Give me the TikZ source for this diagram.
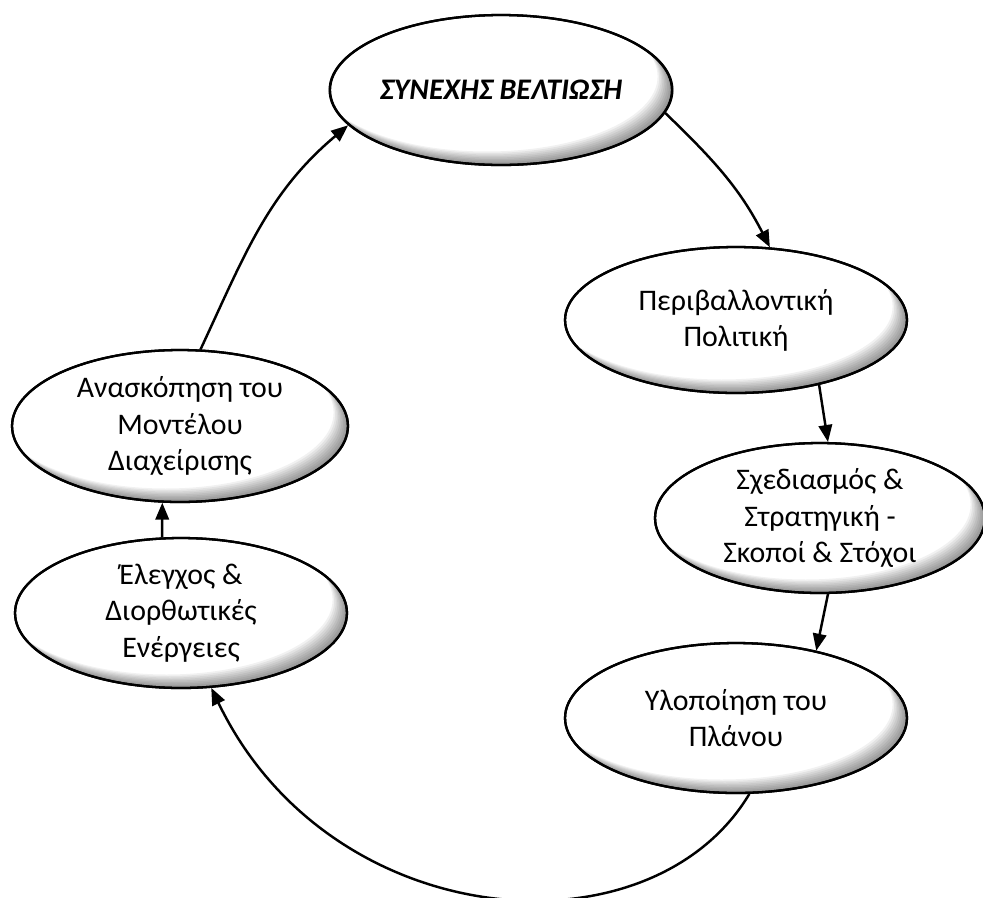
\documentclass[tikz,border=0pt]{standalone}
\usepackage{fontspec}
\setmainfont{Carlito}
\usetikzlibrary{shapes.geometric,arrows.meta}
\tikzset{
  ell/.style={ellipse, draw=black, fill=white, line width=1.3pt, inner sep=0pt, align=center,
    font=\fontsize{17}{20.6}\selectfont},
  conn/.style={line width=1.4pt, -{Triangle[length=0.34cm,width=0.27cm]}},
  shadowlayer/.style={fill=black, opacity=0.055, even odd rule}
}
% inner shadow at lower right of an ellipse node: name, x radius, y radius
\newcommand{\ishadow}[3]{%
  \begin{scope}
    \clip (#1.center) ellipse [x radius=#2, y radius=#3];
    \foreach \k in {1,...,9}{
      \fill[shadowlayer] ([shift={(-\k*0.032cm,\k*0.03cm)}]#1.center) ellipse [x radius=#2, y radius=#3]
        (#1.center) ellipse [x radius=#2+1cm, y radius=#3+1cm];
    }
  \end{scope}
  \draw[line width=1.3pt] (#1.center) ellipse [x radius=#2, y radius=#3];
}
\begin{document}
\begin{tikzpicture}[x=0.02cm,y=0.02cm]
\useasboundingbox (0,0) rectangle (983,-897);
\node[ell, minimum width=6.84cm, minimum height=3.0cm, font=\fontsize{17}{20}\selectfont\bfseries\itshape] (top) at (501,-90) {ΣΥΝΕΧΗΣ ΒΕΛΤΙΩΣΗ};
\node[ell, minimum width=6.84cm, minimum height=2.92cm] (per) at (736,-320) {Περιβαλλοντική\\Πολιτική};
\node[ell, minimum width=6.6cm, minimum height=3.0cm] (sxe) at (820,-518) {Σχεδιασμός \&\\Στρατηγική -\\Σκοποί \& Στόχοι};
\node[ell, minimum width=6.84cm, minimum height=3.0cm] (ylo) at (736,-718) {Υλοποίηση του\\Πλάνου};
\node[ell, minimum width=6.72cm, minimum height=3.04cm] (ana) at (180,-426) {Ανασκόπηση του\\Μοντέλου\\Διαχείρισης};
\node[ell, minimum width=6.64cm, minimum height=3.0cm] (ele) at (181,-613) {Έλεγχος \&\\Διορθωτικές\\Ενέργειες};

\ishadow{top}{3.42cm}{1.5cm}
\ishadow{per}{3.42cm}{1.46cm}
\ishadow{sxe}{3.3cm}{1.5cm}
\ishadow{ylo}{3.42cm}{1.5cm}
\ishadow{ana}{3.36cm}{1.52cm}
\ishadow{ele}{3.32cm}{1.5cm}

\draw[conn] (top.-8) to[out=-44, in=117] (per.65);
\draw[conn] (per.-38) -- (sxe.84);
\draw[conn] (sxe.-84) -- (ylo.40);
\draw[conn] (ylo.-80) .. controls (650,-960) and (330,-935) .. (ele.-68);
\draw[conn] (ele.104) -- (ana.-103);
\draw[conn] (ana.75) to[out=65, in=-140] (top.-167);
\end{tikzpicture}
\end{document}
